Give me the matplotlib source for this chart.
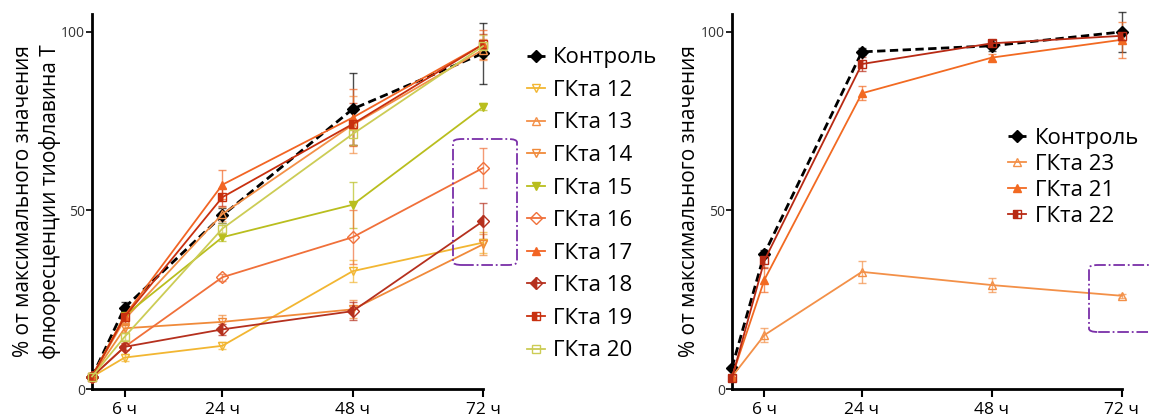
import numpy as np
import matplotlib.pyplot as plt
from matplotlib.patches import FancyBboxPatch

plt.rcParams['font.family'] = ['Open Sans', 'DejaVu Sans']

hours = [0, 6, 24, 48, 72]
xticks = [6, 24, 48, 72]
xticklabels = ['6 ч', '24 ч', '48 ч', '72 ч']

# left panel
ctrl_l = [3.4, 22.8, 48.6, 78.4, 94.0]
ctrl_l_err = [0.8, 1.5, 2.0, 10.0, 8.5]
g12 = [3.4, 8.8, 12.1, 33.0, 41.0]
g12_err = [0.5, 1.0, 1.0, 3.0, 3.0]
g13 = [3.5, 19.5, 49.0, 74.0, 95.0]
g13_err = [0.5, 1.5, 2.0, 8.0, 3.0]
g14 = [3.5, 17.0, 18.8, 22.3, 40.5]
g14_err = [0.5, 1.0, 2.0, 2.5, 3.0]
g15 = [3.5, 20.5, 42.5, 51.6, 79.0]
g15_err = [0.5, 1.5, 1.0, 6.5, 1.0]
g16 = [3.5, 11.8, 31.3, 42.5, 61.9]
g16_err = [0.5, 1.0, 1.0, 7.5, 5.5]
g17 = [3.5, 20.5, 57.2, 76.0, 96.5]
g17_err = [0.5, 1.5, 4.0, 8.0, 4.0]
g18 = [3.4, 11.8, 16.7, 21.8, 47.0]
g18_err = [0.5, 1.0, 1.5, 2.5, 5.0]
g19 = [3.5, 20.2, 53.7, 74.2, 96.5]
g19_err = [0.5, 2.0, 2.5, 6.0, 3.0]
g20 = [3.5, 14.6, 44.9, 71.4, 96.0]
g20_err = [0.5, 1.0, 1.5, 3.0, 3.0]

# right panel
ctrl_r = [6.0, 37.9, 94.4, 96.1, 100.0]
ctrl_r_err = [0.5, 1.0, 1.0, 1.5, 5.5]
g23 = [3.4, 15.1, 32.8, 29.1, 26.1]
g23_err = [0.5, 2.0, 3.0, 2.0, 0.5]
g21 = [3.4, 30.6, 82.8, 92.8, 97.8]
g21_err = [0.5, 3.5, 2.0, 1.0, 5.0]
g22 = [3.0, 36.0, 91.0, 96.8, 98.9]
g22_err = [0.5, 2.0, 2.0, 1.0, 1.5]

fig = plt.figure(figsize=(11.49, 4.16), dpi=100)
ax1 = fig.add_axes([0.0801, 0.0649, 0.3403, 0.9014])
ax2 = fig.add_axes([0.637, 0.0649, 0.3394, 0.9014])


def series(ax, y, err, color, marker, label, fill='full', mfc=None,
           ls='-', lw=1.3):
    if mfc is None:
        mfc = color
    eb = ax.errorbar(hours, y, yerr=err, color=color, ls=ls, lw=lw,
                     marker=marker, ms=6, mfc=mfc, mec=color, mew=1.0,
                     fillstyle=fill, elinewidth=1.0, capsize=3,
                     capthick=1.0, ecolor=color,
                     clip_on=False, zorder=3)
    for a in eb.lines[1] + eb.lines[2]:
        a.set_alpha(0.7)
        a.set_clip_on(False)
    return eb[0], label


h1 = [
    series(ax1, ctrl_l, ctrl_l_err, 'black', 'D', 'Контроль',
           ls=(0, (3, 1.6)), lw=2.0),
    series(ax1, g12, g12_err, '#F2B632', 'v', 'ГКта 12', mfc='none'),
    series(ax1, g13, g13_err, '#F39048', '^', 'ГКта 13', mfc='none'),
    series(ax1, g14, g14_err, '#F08A3A', 'v', 'ГКта 14', mfc='none'),
    series(ax1, g15, g15_err, '#B9BE1E', 'v', 'ГКта 15'),
    series(ax1, g16, g16_err, '#F0703A', 'D', 'ГКта 16', mfc='none'),
    series(ax1, g17, g17_err, '#F26524', '^', 'ГКта 17'),
    series(ax1, g18, g18_err, '#B5301E', 'D', 'ГКта 18', fill='left'),
    series(ax1, g19, g19_err, '#C8300F', 's', 'ГКта 19', fill='left'),
    series(ax1, g20, g20_err, '#CCCC55', 's', 'ГКта 20', mfc='none'),
]

h2 = [
    series(ax2, ctrl_r, ctrl_r_err, 'black', 'D', 'Контроль',
           ls=(0, (3, 1.6)), lw=2.0),
    series(ax2, g23, g23_err, '#F39048', '^', 'ГКта 23', mfc='none'),
    series(ax2, g21, g21_err, '#F26A22', '^', 'ГКта 21'),
    series(ax2, g22, g22_err, '#B82A14', 's', 'ГКта 22', fill='left'),
]

for ax in (ax1, ax2):
    ax.set_xlim(0, 72)
    ax.set_ylim(0, 105)
    ax.set_xticks(xticks)
    ax.set_xticklabels(xticklabels, fontsize=12.5)
    ax.set_yticks([0, 50, 100])
    ax.tick_params(axis='y', labelsize=10, length=4, width=1.2,
                   labelcolor='#333333', pad=1)
    ax.tick_params(axis='x', length=6, width=1.5, pad=3)
    ax.spines['top'].set_visible(False)
    ax.spines['right'].set_visible(False)
    for s in ('left', 'bottom'):
        ax.spines[s].set_linewidth(2)

ax1.set_ylabel('% от максимального значения\nфлюоресценции тиофлавина Т',
               fontsize=15, labelpad=0, linespacing=1.3)
ax2.set_ylabel('% от максимального значения', fontsize=15, labelpad=1)

ax1.legend([h for h, _ in h1], [l for _, l in h1], loc='upper left',
           bbox_to_anchor=(1.089, 0.935), frameon=False, fontsize=16,
           handlelength=0.8, handletextpad=0.36, labelspacing=0.52,
           borderaxespad=0)
ax2.legend([h for h, _ in h2], [l for _, l in h2], loc='upper left',
           bbox_to_anchor=(0.685, 0.72), frameon=False, fontsize=16,
           handlelength=0.8, handletextpad=0.4, labelspacing=0.22,
           borderaxespad=0)

# purple dash-dot highlight boxes (figure pixel units)
for (x0, y0, w, h) in [(453, 151, 64, 126), (1089, 84, 70, 67)]:
    box = FancyBboxPatch((x0 / 1149, y0 / 416), w / 1149, h / 416,
                         boxstyle='round,pad=0,rounding_size=0.008',
                         transform=fig.transFigure, fill=False,
                         ec='#7A2FA8', lw=1.3, ls='-.', zorder=5)
    fig.patches.append(box)

plt.savefig('out.png', dpi=100)
